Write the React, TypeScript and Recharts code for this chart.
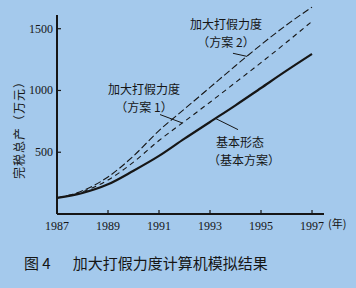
import React from 'react';
import { LineChart, Line, XAxis, YAxis, ReferenceLine } from 'recharts';

const years = [1987, 1988, 1989, 1990, 1991, 1992, 1993, 1994, 1995, 1996, 1997];
const basicPlan = [130, 170, 240, 350, 470, 610, 745, 880, 1020, 1160, 1295];
const plan1 = [130, 180, 275, 420, 595, 750, 905, 1065, 1225, 1390, 1560];
const plan2 = [130, 188, 300, 470, 675, 850, 1025, 1200, 1370, 1530, 1675];
const yTicks = [500, 1000, 1500];
const labeledYears = [1987, 1989, 1991, 1993, 1995, 1997];

const data = years.map((year, i) => ({
  year,
  basic: basicPlan[i],
  p1: plan1[i],
  p2: plan2[i],
}));

const ink = '#161616';
const bg = '#a4c9ec';
const numFont = '"Liberation Serif", "DejaVu Serif", serif';
const cjkFont = '"Noto Sans CJK SC", sans-serif';

const XTick = (props: any) => {
  const { x, y, payload } = props;
  return (
    <g>
      <line x1={x} y1={y} x2={x} y2={y - 4} stroke={ink} strokeWidth={1.2} />
      {labeledYears.includes(payload.value) && (
        <text x={x} y={y + 16} textAnchor="middle" fontSize={12} fontFamily={numFont} fill={ink}>
          {payload.value}
        </text>
      )}
    </g>
  );
};

const YTick = (props: any) => {
  const { x, y, payload } = props;
  return (
    <g>
      <line x1={x} y1={y} x2={x + 4} y2={y} stroke={ink} strokeWidth={1.2} />
      <text x={x - 4} y={y + 4} textAnchor="end" fontSize={12} fontFamily={numFont} fill={ink}>
        {payload.value}
      </text>
    </g>
  );
};

const note: React.CSSProperties = {
  position: 'absolute',
  fontFamily: cjkFont,
  fontSize: 12,
  lineHeight: '18px',
  color: ink,
  whiteSpace: 'nowrap',
  textAlign: 'center',
};

const App: React.FC = () => {
  return (
    <div style={{ position: 'absolute', left: 0, top: 0, width: 356, height: 288, background: bg, overflow: 'hidden' }}>
      <LineChart width={356} height={288} data={data} margin={{ top: 4, right: 32, left: 0, bottom: 44 }}>
        <XAxis
          dataKey="year"
          type="number"
          domain={[1987, 1997.47]}
          ticks={years}
          height={30}
          tickSize={0}
          tickMargin={0}
          tick={<XTick />}
          axisLine={{ stroke: ink, strokeWidth: 2 }}
          tickLine={false}
        />
        <YAxis
          type="number"
          domain={[0, 1700]}
          ticks={yTicks}
          width={57}
          tickSize={0}
          tickMargin={0}
          tick={<YTick />}
          axisLine={false}
          tickLine={false}
        />
        <ReferenceLine segment={[{ x: 1987, y: 0 }, { x: 1987, y: 1610 }]} stroke={ink} strokeWidth={2} />
        <Line dataKey="p2" type="monotone" stroke={ink} strokeWidth={1.1} strokeDasharray="7 3" dot={false} isAnimationActive={false} />
        <Line dataKey="p1" type="monotone" stroke={ink} strokeWidth={1.1} strokeDasharray="5 4" dot={false} isAnimationActive={false} />
        <Line dataKey="basic" type="monotone" stroke={ink} strokeWidth={2.2} dot={false} isAnimationActive={false} />
        <ReferenceLine segment={[{ x: 1993.9, y: 1301 }, { x: 1994.45, y: 1276 }]} stroke={ink} strokeWidth={1} />
        <ReferenceLine segment={[{ x: 1991.04, y: 805 }, { x: 1991.9, y: 738 }]} stroke={ink} strokeWidth={1} />
        <ReferenceLine segment={[{ x: 1993.2, y: 775 }, { x: 1994.1, y: 683 }]} stroke={ink} strokeWidth={1} />
      </LineChart>

      <div style={{ ...note, left: 190, top: 15, width: 72 }}>
        加大打假力度
        <br />
        （方案 2）
      </div>
      <div style={{ ...note, left: 106, top: 80, width: 76 }}>
        加大打假力度
        <br />
        （方案 1）
      </div>
      <div style={{ ...note, left: 208, top: 133, width: 64 }}>
        基本形态
        <br />
        （基本方案）
      </div>

      <div
        style={{
          position: 'absolute',
          left: 18,
          top: 127,
          transform: 'translate(-50%, -50%) rotate(-90deg)',
          fontFamily: cjkFont,
          fontSize: 12,
          letterSpacing: 1,
          color: ink,
          whiteSpace: 'nowrap',
        }}
      >
        完税总产（万元）
      </div>

      <div style={{ position: 'absolute', left: 328, top: 215, fontFamily: cjkFont, fontSize: 11, color: ink, whiteSpace: 'nowrap' }}>(年)</div>

      <div style={{ position: 'absolute', left: 24, top: 252, fontFamily: cjkFont, fontSize: 15, color: ink, whiteSpace: 'nowrap' }}>
        图 4<span style={{ display: 'inline-block', width: 22 }} />加大打假力度计算机模拟结果
      </div>
    </div>
  );
};

export default App;
